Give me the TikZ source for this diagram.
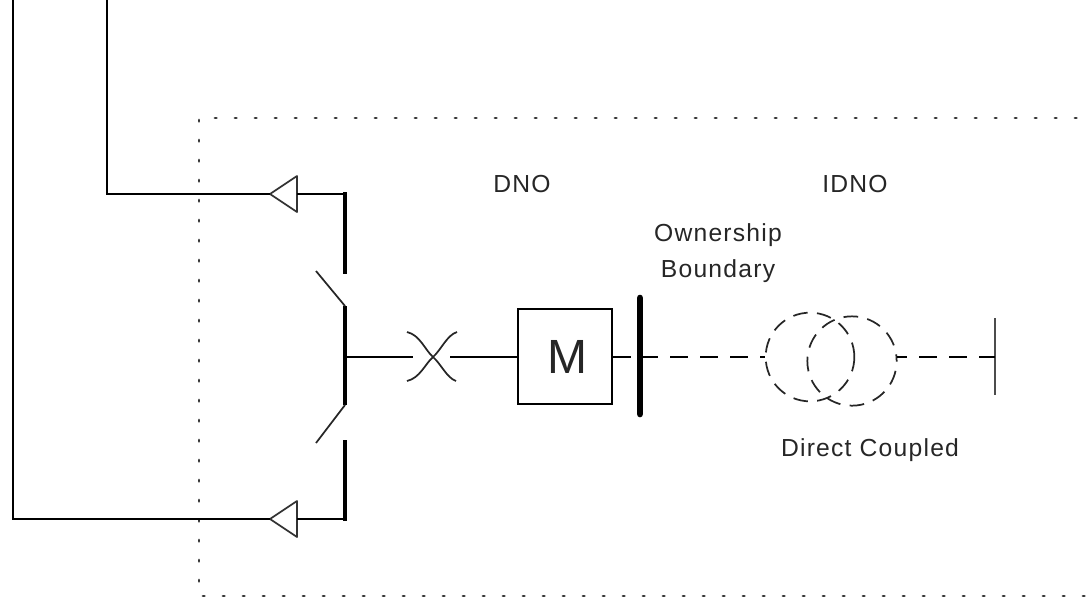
\documentclass[tikz,border=0pt]{standalone}
\usepackage{fontspec}
\setmainfont[LetterSpace=5]{Liberation Sans}
\tikzset{
  lbl/.style={font=\fontsize{18.5}{27}\selectfont,text=black!85,align=center,inner sep=0pt},
  feeder/.style={line width=1.7pt},
  busbar/.style={line width=3.6pt},
  wire/.style={line width=1.3pt},
  swblade/.style={line width=1.3pt,black!85},
  dotted box/.style={line width=2.2pt,black!80,line cap=round,dash pattern=on 1pt off 14pt},
  dashwire/.style={line width=1.5pt,dash pattern=on 13.5pt off 9pt},
  dashcoil/.style={line width=1.3pt,black!85,dash pattern=on 11pt off 7pt}
}
\begin{document}
\begin{tikzpicture}[x=0.75pt,y=-0.75pt]
\useasboundingbox (0,0) rectangle (1088,601);

% outer feeders
\coordinate (feedA) at (13,0);
\coordinate (feedB) at (107,0);
\coordinate (busAtop) at (345,194);
\coordinate (busAend) at (345,272);
\coordinate (busMtop) at (345,306);
\coordinate (busMbot) at (345,405);
\coordinate (busBtop) at (345,442);
\coordinate (busBend) at (345,519);
\coordinate (bladeA) at (316,271);
\coordinate (bladeB) at (316,443);
\coordinate (tap) at (345,357);

% dotted boundary
\coordinate (dotTS) at (215,118);
\coordinate (dotTR) at (1088,118);
\coordinate (dotTL) at (199,120);
\coordinate (dotBL) at (199,596);
\coordinate (dotBR) at (1088,596);
\draw[dotted box] (dotTS) -- (dotTR);
\draw[dotted box] (dotTL) -- (dotBL) -- (dotBR);

% cable ends
\coordinate (apexA) at (270,194);
\coordinate (apexB) at (270,519);
\coordinate (baseA) at (297,194);
\coordinate (baseB) at (297,519);
\draw[wire,line join=round,black!80] (apexA) -- (297,176) -- (297,212) -- cycle;
\draw[wire,line join=round,black!80] (apexB) -- (297,501) -- (297,537) -- cycle;

\draw[feeder] (feedB) -- (feedB |- apexA) -- (apexA);
\draw[feeder] (feedA) -- (feedA |- apexB) -- (apexB);
\draw[feeder] (baseA) -- (busAtop);
\draw[feeder] (baseB) -- (busBend);

% busbar and switches
\draw[busbar,line cap=rect] (busAtop) -- (busAend);
\draw[busbar] (busMtop) -- (busMbot);
\draw[busbar,line cap=rect] (busBtop) -- (busBend);
\draw[swblade] (busMtop) -- (bladeA);
\draw[swblade] (busMbot) -- (bladeB);

% breaker
\coordinate (cbL) at (413,357);
\coordinate (cbR) at (450,357);
\coordinate (cbC) at (433,357);
\draw[wire] (tap) -- (cbL);
\draw[swblade] (407,332) .. controls (420,335) and (425,350) .. (cbC) .. controls (441,364) and (447,378) .. (456,381);
\draw[swblade] (457,332) .. controls (447,335) and (441,350) .. (cbC) .. controls (425,364) and (420,378) .. (407,381);

% meter
\node[draw,line width=1.3pt,minimum size=71pt,inner sep=0pt,font=\fontsize{36}{36}\selectfont,text=black!85] (meter) at (565,356.5) {\hspace{3pt}M};
\draw[wire] (cbR) -- (meter.west |- cbR);

% ownership boundary
\coordinate (ownTop) at (640,298);
\coordinate (ownBot) at (640,414);
\coordinate (ownMid) at (640,357);
\draw[line width=5pt,line cap=round] (ownTop) -- (ownBot);
\draw[wire] (meter.east |- ownMid) -- (631,357);

% transformer
\node[draw,dashcoil,circle,minimum size=66.5pt,inner sep=0pt] (coilA) at (810,357) {};
\node[draw,dashcoil,circle,minimum size=67pt,inner sep=0pt,dash phase=6pt] (coilB) at (852,361) {};
\coordinate (coilOut) at (897,357);
\coordinate (endTop) at (995,318);
\coordinate (endBot) at (995,395);
\coordinate (endMid) at (995,357);
\draw[wire,black!70] (endTop) -- (endBot);
\draw[dashwire] (ownMid) -- (coilA.west);
\draw[dashwire,dash phase=6pt] (coilOut) -- (endMid);

% labels
\node[lbl] (dno) at (522,184) {DNO};
\node[lbl] (idno) at (855,184) {IDNO};
\node[lbl] (owner) at (718,253) {Ownership\\Boundary};
\node[lbl] (direct) at (870,450) {Direct Coupled};

\end{tikzpicture}
\end{document}
